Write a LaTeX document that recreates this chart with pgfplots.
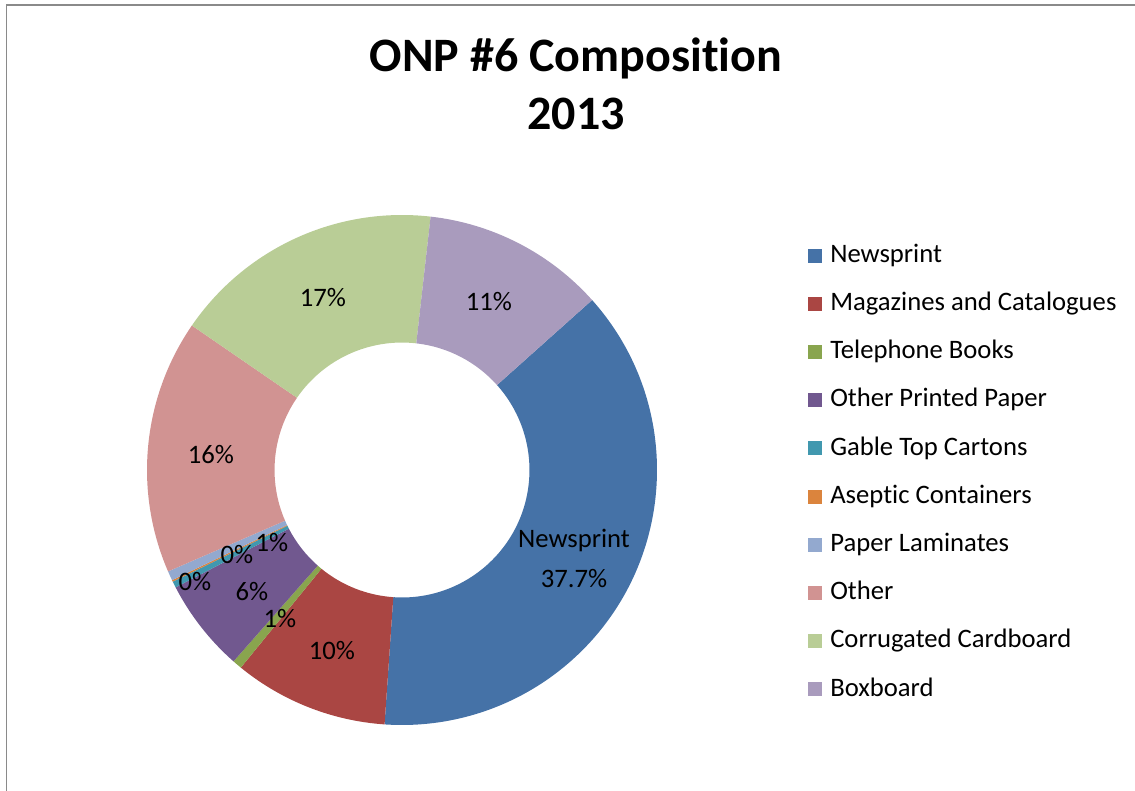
\documentclass[border=0pt]{standalone}
\usepackage{pgfplots}
\pgfplotsset{compat=1.18}
\usepackage{pgfplotstable}
\usepackage{fontspec}
\setmainfont{Carlito}[Ligatures=NoCommon]
\definecolor{c0}{HTML}{4572A7}
\definecolor{c1}{HTML}{AA4643}
\definecolor{c2}{HTML}{89A54E}
\definecolor{c3}{HTML}{71588F}
\definecolor{c4}{HTML}{4198AF}
\definecolor{c5}{HTML}{DB843D}
\definecolor{c6}{HTML}{93A9CF}
\definecolor{c7}{HTML}{D19392}
\definecolor{c8}{HTML}{B9CD96}
\definecolor{c9}{HTML}{A99BBD}
\definecolor{framegray}{HTML}{8A8A8A}

% share of each component (percent), label text and label position (pixels)
\pgfplotstableread[col sep=comma]{
name,value,pct,lx,ly
Newsprint,37.7,37.7,574,232
Magazines and Catalogues,9.8,10,332,139
Telephone Books,0.6,1,280,171
Other Printed Paper,5.9,6,252,198
Gable Top Cartons,0.4,0,195,208
Aseptic Containers,0.1,0,237,235
Paper Laminates,0.6,1,272,247
Other,16.1,16,211,335
Corrugated Cardboard,17.2,17,323,492
Boxboard,11.6,11,489,488
}\slices

\begin{document}
\begin{tikzpicture}
\begin{axis}[
  x=0.75pt, y=0.75pt,
  xmin=0, xmax=1135, ymin=0, ymax=790,
  hide axis,
  legend style={at={(axis cs:808,546)}, anchor=north west, draw=none, fill=none,
    font=\fontsize{20}{24}\selectfont, inner sep=0pt,
    nodes={inner sep=0pt, text height=13.5pt, text depth=4pt, anchor=west},
    row sep=18.65pt},
  legend cell align=left,
  legend image code/.code={\fill[#1, draw=none] (0pt,-5pt) rectangle (10.5pt,5.5pt); \path (16.5pt,0pt);},
]
\path (axis cs:0,0) (axis cs:1135,790);
% chart frame
\draw[framegray, line width=1.1pt] (axis cs:6.5,-20) -- (axis cs:6.5,785) -- (axis cs:1160,785);
% title
\node[anchor=base, font=\fontsize{36}{42}\selectfont\bfseries] at (axis cs:576,718) {ONP \#6 Composition};
\node[anchor=base, font=\fontsize{36}{42}\selectfont\bfseries] at (axis cs:576,660) {2013};

\pgfplotstablegetrowsof{\slices}
\pgfmathtruncatemacro\lastrow{\pgfplotsretval-1}
\def\cum{0}
\pgfplotsforeachungrouped \i in {0,...,\lastrow}{%
  \pgfplotstablegetelem{\i}{value}\of\slices \let\val\pgfplotsretval
  \pgfmathsetmacro\sa{41.8-3.6*\cum}%
  \pgfmathsetmacro\ea{\sa-3.6*\val}%
  \pgfmathsetmacro\cum{\cum+\val}%
  \edef\cmd{\noexpand\fill[c\i] ([shift={(\sa:191.25pt)}]axis cs:402,320)
     arc[start angle=\sa, end angle=\ea, radius=191.25pt]
     -- ([shift={(\ea:95.6pt)}]axis cs:402,320)
     arc[start angle=\ea, end angle=\sa, radius=95.6pt] -- cycle;}%
  \cmd
  \edef\cmd{\noexpand\addlegendimage{fill=c\i, draw=none}}\cmd
  \pgfplotstablegetelem{\i}{name}\of\slices
  \expandafter\addlegendentry\expandafter{\pgfplotsretval}%
}
% data labels
\pgfplotsforeachungrouped \i in {0,...,\lastrow}{%
  \pgfplotstablegetelem{\i}{pct}\of\slices \let\pc\pgfplotsretval
  \pgfplotstablegetelem{\i}{lx}\of\slices \let\lx\pgfplotsretval
  \pgfplotstablegetelem{\i}{ly}\of\slices \let\ly\pgfplotsretval
  \ifnum\i=0
    \edef\cmd{\noexpand\node[align=center, font=\noexpand\fontsize{20}{30}\noexpand\selectfont] at (axis cs:\lx,\ly) {Newsprint\noexpand\\\pc\noexpand\%};}%
  \else
    \edef\cmd{\noexpand\node[font=\noexpand\fontsize{20}{24}\noexpand\selectfont] at (axis cs:\lx,\ly) {\pc\noexpand\%};}%
  \fi
  \cmd
}
\end{axis}
\end{tikzpicture}
\end{document}
